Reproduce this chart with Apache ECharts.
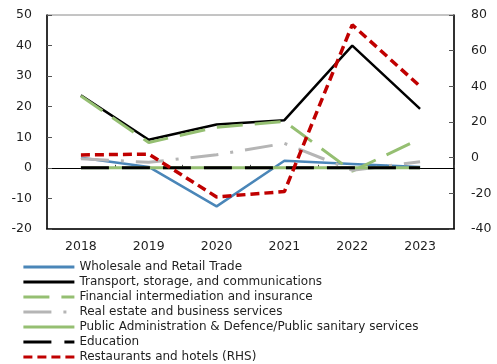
<!DOCTYPE html>
<html>
<head>
<meta charset="utf-8">
<style>
  html, body { margin: 0; padding: 0; background: #fff; }
  #chart { width: 497px; height: 364px; }
</style>
<script src="https://cdn.jsdelivr.net/npm/echarts@6/dist/echarts.min.js"></script>
</head>
<body>
<div id="chart"></div>
<script>
// Years on the category axis
const years = ['2018', '2019', '2020', '2021', '2022', '2023'];

// Growth by sector, percent (left axis)
const wholesale   = [3.3, 0.3, -12.6, 2.3, 1.3, 0.3];
const transport   = [23.7, 9.2, 14.2, 15.6, 40.0, 19.3];
const financial   = [23.5, 8.3, 13.3, 15.2, -1.1, 9.5];
const realEstate  = [3.0, 1.8, 4.3, 8.0, -0.8, 2.0];
const publicAdmin = [0, 0, 0, 0, 0, 0];
const education   = [0, 0, 0, 0, 0, 0];

// Restaurants and hotels, percent (right axis)
const restaurants = [1.5, 2.0, -22.0, -19.0, 74.5, 40.0];

// Axis tick ranges
const leftAxis  = { min: -20, max: 50, interval: 10 };
const rightAxis = { min: -40, max: 80, interval: 20 };

const FONT = 'DejaVu Sans';
const TEXT = '#1f1f1f';

function lineSeries(name, data, color, width, dash, yIndex) {
  return {
    name: name,
    type: 'line',
    data: data,
    xAxisIndex: 0,
    yAxisIndex: yIndex || 0,
    symbol: 'none',
    smooth: false,
    animation: false,
    lineStyle: { color: color, width: width, type: dash || 'solid', cap: 'butt' },
    itemStyle: { color: color }
  };
}

const chart = echarts.init(document.getElementById('chart'), null, { renderer: 'canvas' });

chart.setOption({
  animation: false,
  grid: {
    left: 47, right: 43, top: 15, bottom: 135,
    show: true, borderColor: '#8a8a8a', borderWidth: 1, backgroundColor: 'transparent'
  },
  legend: {
    orient: 'vertical',
    left: 22, top: 261, padding: 0, height: 103,
    itemWidth: 51, itemHeight: 12, itemGap: 3, itemTextGap: 5,
    itemStyle: { opacity: 0, borderWidth: 0 },
    lineStyle: { width: 2.8 },
    textStyle: { fontFamily: FONT, fontSize: 12, color: TEXT },
    data: [
      'Wholesale and Retail Trade',
      'Transport, storage, and communications',
      'Financial intermediation and insurance',
      'Real estate and business services',
      'Public Administration & Defence/Public sanitary services',
      'Education',
      'Restaurants and hotels (RHS)'
    ]
  },
  xAxis: [
    {
      type: 'category', data: years, position: 'bottom', boundaryGap: true,
      axisLine: { onZero: false, lineStyle: { color: '#000', width: 1.5 } },
      axisTick: { show: false },
      axisLabel: { margin: 11, fontFamily: FONT, fontSize: 12.5, color: TEXT },
      splitLine: { show: false }
    },
    {
      // zero baseline with category separators
      type: 'category', data: years, position: 'bottom', boundaryGap: true,
      axisLine: { onZero: true, onZeroAxisIndex: 0, lineStyle: { color: '#000', width: 1 } },
      axisTick: { show: true, inside: true, length: 3, lineStyle: { color: '#444', width: 1 } },
      axisLabel: { show: false },
      splitLine: { show: false }
    }
  ],
  yAxis: [
    {
      type: 'value', position: 'left',
      min: leftAxis.min, max: leftAxis.max, interval: leftAxis.interval,
      axisLine: { show: true, lineStyle: { color: '#000', width: 1.5 } },
      axisTick: { show: true, inside: true, length: 5, lineStyle: { color: '#555', width: 1 } },
      axisLabel: { margin: 15, fontFamily: FONT, fontSize: 12.5, color: TEXT },
      splitLine: { show: false }
    },
    {
      type: 'value', position: 'right',
      min: rightAxis.min, max: rightAxis.max, interval: rightAxis.interval,
      axisLine: { show: true, lineStyle: { color: '#000', width: 1.5 } },
      axisTick: { show: true, inside: true, length: 5, lineStyle: { color: '#555', width: 1 } },
      axisLabel: { margin: 17, fontFamily: FONT, fontSize: 12.5, color: TEXT, align: 'left' },
      splitLine: { show: false }
    }
  ],
  series: [
    lineSeries('Wholesale and Retail Trade', wholesale, '#4a86b8', 2.5),
    lineSeries('Transport, storage, and communications', transport, '#000000', 2.5),
    lineSeries('Financial intermediation and insurance', financial, '#95bf72', 3, [26, 12]),
    lineSeries('Real estate and business services', realEstate, '#b5b5b5', 3, [28, 12, 3, 12]),
    lineSeries('Public Administration & Defence/Public sanitary services', publicAdmin, '#95bf72', 3),
    lineSeries('Education', education, '#000000', 3, [28, 13]),
    lineSeries('Restaurants and hotels (RHS)', restaurants, '#c00000', 3.5, [9, 5], 1)
  ]
});
</script>
</body>
</html>
